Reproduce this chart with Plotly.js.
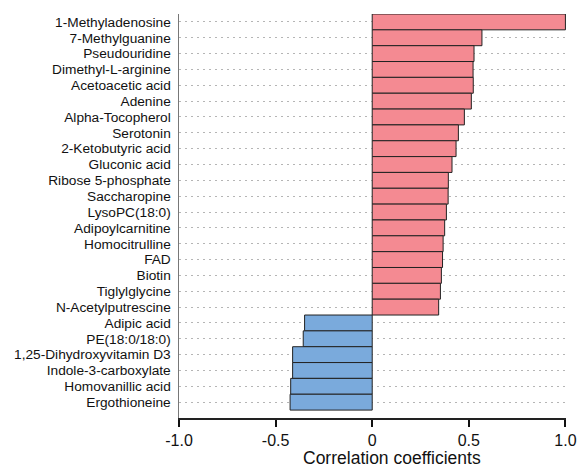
<!DOCTYPE html>
<html>
<head>
<meta charset="utf-8">
<script src="https://cdn.plot.ly/plotly-3.0.1.min.js"></script>
<style>html,body{margin:0;padding:0;background:#fff;}#chart{width:587px;height:469px;}</style>
</head>
<body>
<div id="chart"></div>
<script>
const metabolites = [
  "1-Methyladenosine", "7-Methylguanine", "Pseudouridine", "Dimethyl-L-arginine",
  "Acetoacetic acid", "Adenine", "Alpha-Tocopherol", "Serotonin",
  "2-Ketobutyric acid", "Gluconic acid", "Ribose 5-phosphate", "Saccharopine",
  "LysoPC(18:0)", "Adipoylcarnitine", "Homocitrulline", "FAD", "Biotin",
  "Tiglylglycine", "N-Acetylputrescine", "Adipic acid", "PE(18:0/18:0)",
  "1,25-Dihydroxyvitamin D3", "Indole-3-carboxylate", "Homovanillic acid", "Ergothioneine"
];
const coefficients = [
  1.0, 0.568, 0.527, 0.522,
  0.523, 0.513, 0.477, 0.446,
  0.434, 0.413, 0.394, 0.393,
  0.384, 0.375, 0.367, 0.364, 0.358,
  0.353, 0.344, -0.35, -0.357,
  -0.412, -0.412, -0.422, -0.425
];
const xTickVals = [-1, -0.5, 0, 0.5, 1];
const xTickText = ["-1.0", "-0.5", "0", "0.5", "1.0"];
const positiveColor = "#F48A92";
const negativeColor = "#7AAADC";

const barColors = coefficients.map(v => v >= 0 ? positiveColor : negativeColor);

const trace = {
  type: "bar",
  orientation: "h",
  x: coefficients,
  y: metabolites,
  marker: { color: barColors, line: { color: "#222", width: 1 } },
  hoverinfo: "x+y",
  showlegend: false
};

const layout = {
  width: 587, height: 469,
  margin: { l: 179, r: 21, t: 14, b: 51 },
  paper_bgcolor: "#fff", plot_bgcolor: "#fff",
  font: { family: "Liberation Sans, Arial, sans-serif", color: "#111" },
  bargap: 0,
  xaxis: {
    range: [-1, 1.003],
    tickvals: xTickVals, ticktext: xTickText,
    ticks: "outside", ticklen: 7, tickwidth: 2, tickcolor: "#111",
    showline: true, linecolor: "#222", linewidth: 2,
    showgrid: false, zeroline: false,
    tickfont: { size: 16, color: "#111" }
  },
  yaxis: {
    type: "category",
    range: [25, -0.5],
    tickmode: "array", tickvals: metabolites, ticktext: metabolites,
    showline: true, linecolor: "#777", linewidth: 1.5,
    ticks: "", ticklabelstandoff: 4,
    showgrid: true, gridcolor: "#b5b5b5", griddash: "2px,4px", gridwidth: 1,
    zeroline: false,
    tickfont: { size: 13.7, color: "#111" }
  },
  annotations: [{
    text: "Correlation coefficients",
    xref: "paper", yref: "paper",
    x: (391.5 - 179) / 387, y: -(458 - 418) / 404,
    xanchor: "center", yanchor: "middle",
    showarrow: false, borderpad: 0,
    font: { size: 17.5, color: "#111" }
  }]
};

Plotly.newPlot("chart", [trace], layout, { displayModeBar: false, staticPlot: true });
</script>
</body>
</html>
